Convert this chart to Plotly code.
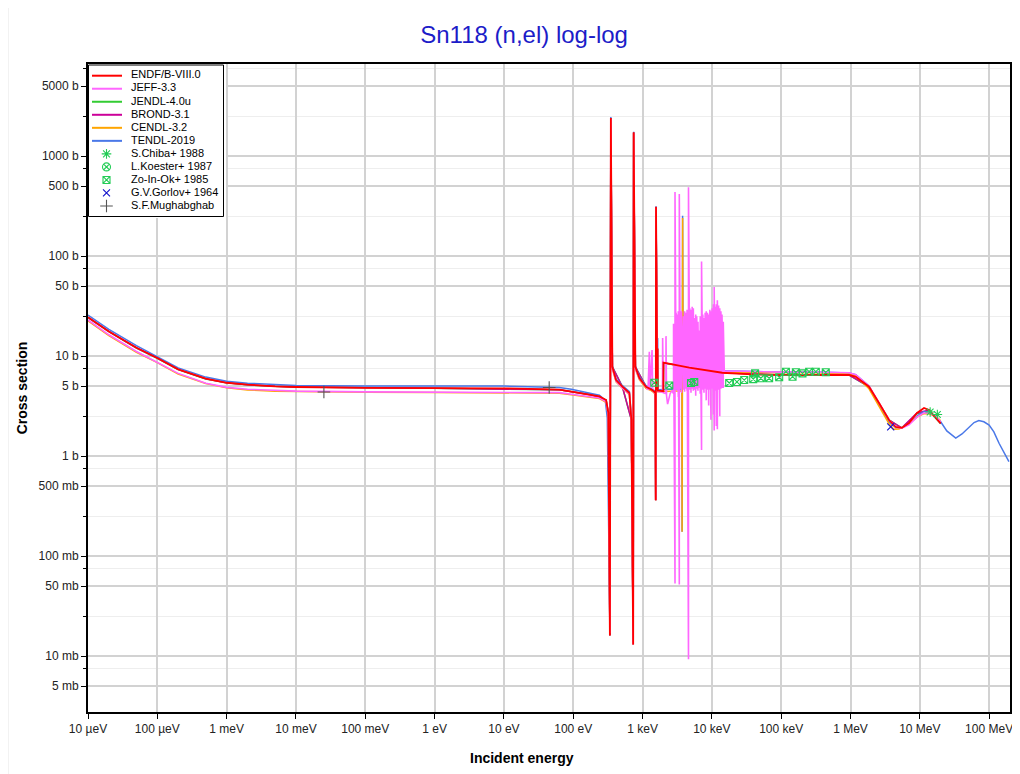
import plotly.graph_objects as go

# evaluated cross sections, energy in eV, cross section in barn
endf_e = [1e-5, 2e-5, 5e-5, 1e-4, 2e-4, 5e-4, 1e-3, 2e-3, 5e-3, 1e-2, 0.1, 1, 10, 63, 94, 189, 239, 298, 321,
          338, 349, 367, 415, 512, 646, 690, 733, 745, 788, 900, 1123, 1384, 1529, 1549, 1565,
          1633, 1655, 1662, 1700, 1990, 2000, 4725, 14.1e3, 38.2e3, 103e3, 319e3, 955e3,
          1.19e6, 1.85e6, 2.58e6, 3.6e6, 4.5e6, 5.5e6, 6.98e6, 9.1e6, 11.5e6, 13.6e6, 17e6, 20e6]
endf_s = [24.4, 17.6, 12.1, 9.55, 7.35, 5.93, 5.4, 5.17, 4.98, 4.9, 4.8, 4.76, 4.75, 4.6, 4.4, 4.07, 3.95, 3.63, 2.7,
          0.016, 2400, 7.8, 5.75, 4.93, 4.27, 2.3, 0.013, 1726, 7.8, 6.03, 4.93, 4.57, 4.27, 0.36, 310,
          4.57, 11.9, 4.5, 4.5, 4.45, 8.57, 7.65, 6.8, 6.56, 6.46, 6.46, 6.46,
          6.2, 4.93, 3.39, 2.29, 1.95, 1.91, 2.14, 2.69, 3.02, 2.88, 2.4, 2.12]

tendl_e = [1e-5, 2e-5, 5e-5, 1e-4, 2e-4, 5e-4, 1e-3, 2e-3, 5e-3, 1e-2, 0.1, 1, 10, 63, 94, 189, 239, 290, 310,
           338, 349, 367, 415, 512, 646, 690, 733, 745, 788, 900, 1123, 1384, 1529, 1549, 1565,
           1633, 1652, 1662, 1700, 3700, 3720, 3784, 3850, 6000, 15e3, 38.2e3, 103e3, 319e3, 955e3,
           1.19e6, 1.85e6, 2.58e6, 3.6e6, 4.5e6, 5.5e6, 6.98e6, 9.1e6, 11.5e6, 13.6e6, 17e6, 20e6,
           24.5e6, 33e6, 40.6e6, 51.5e6, 60.6e6, 71e6, 84e6, 100e6, 117e6, 139e6, 163e6, 193e6]
tendl_s = [25.7, 18.5, 12.7, 9.8, 7.6, 6.15, 5.6, 5.35, 5.15, 5.08, 5.0, 5.0, 5.0, 4.85, 4.65, 4.2, 4.05, 3.6, 2.4,
           0.02, 2450, 8.0, 5.9, 5.05, 4.4, 2.4, 0.014, 1750, 8.0, 6.2, 5.05, 4.7, 4.4, 0.37, 315,
           4.7, 15.1, 4.6, 4.6, 4.7, 0.175, 253, 5.0, 5.5, 7.1, 7.0, 6.9, 6.9, 6.75,
           6.5, 5.0, 3.3, 2.2, 1.92, 1.93, 2.1, 2.5, 2.78, 2.75, 2.5, 2.2,
           1.78, 1.51, 1.66, 1.95, 2.16, 2.26, 2.2, 2.04, 1.74, 1.34, 1.1, 0.88]

jeff_e = [1e-5, 2e-5, 5e-5, 1e-4, 2e-4, 5e-4, 1e-3, 2e-3, 5e-3, 1e-2, 0.1, 1, 10, 63, 94, 189, 239, 298, 321,
          338, 349, 367, 415, 512, 646, 690, 733, 745, 788, 900, 1123,
          1200, 1253, 1280, 1371, 1400, 1529, 1549, 1565, 1633, 1700, 1940, 1950, 1990, 2170, 2180,
          2220, 2300, 2500, 2650]
jeff_s = [22.9, 16.3, 11.1, 8.7, 6.7, 5.35, 4.86, 4.65, 4.5, 4.45, 4.38, 4.37, 4.36, 4.3, 4.15, 3.9, 3.8, 3.5, 2.6,
          0.017, 2350, 7.5, 5.6, 4.8, 4.15, 2.2, 0.013, 1700, 7.5, 5.9, 4.8,
          4.6, 11.0, 4.55, 11.5, 4.5, 4.2, 0.36, 305, 4.5, 4.4, 4.35, 15.1, 4.3, 4.2, 15.8,
          4.0, 3.3, 4.2, 4.5]
# JEFF-3.3 dense resonances 2.8 - 15 keV: energy, top, bottom
jeff_res_e = [2800, 2940, 3050, 3160, 3280, 3390, 3520, 3650, 3900, 4050, 4200, 4380, 4600, 4800,
              5000, 5200, 5400, 5620, 5850, 6050, 6300, 6550, 6800, 7100, 7400, 7700, 8000, 8300,
              8650, 9000, 9350, 9700, 10100, 10500, 10800, 11200, 11600, 12000, 12500, 13000,
              13500, 14000, 14600]
jeff_res_hi = [21, 436, 27, 26, 28, 418, 27, 28, 25, 28, 27, 29, 486, 30, 29, 31, 30, 24, 26, 25,
               22, 18, 25, 88, 26, 24, 27, 28, 27, 26, 29, 28, 30, 33, 49, 31, 33, 36, 32, 30, 28,
               26, 22]
jeff_res_lo = [4.2, 0.053, 4.6, 4.5, 3.9, 0.052, 4.7, 4.3, 4.6, 4.4, 4.7, 4.5, 0.0093, 4.6, 4.3,
               4.7, 4.5, 4.6, 4.0, 4.7, 4.5, 4.8, 4.2, 1.15, 4.6, 4.3, 4.7, 3.6, 4.6, 3.2, 4.6, 2.3,
               4.7, 2.6, 1.8, 4.5, 2.0, 1.85, 4.6, 2.5, 4.7, 4.8, 4.8]
jeff_hi_e = [15.1e3, 38.2e3, 103e3, 319e3, 955e3, 1.19e6, 1.85e6, 2.58e6, 3.6e6, 4.5e6, 5.5e6,
             6.98e6, 9.1e6, 11.5e6, 13.6e6, 17e6, 20e6]
jeff_hi_s = [7.1, 7.0, 6.9, 6.9, 6.8, 6.5, 5.0, 3.4, 2.3, 1.95, 1.9, 2.05, 2.45, 2.7, 2.7, 2.5, 2.2]

cendl_e = [1e-5, 2e-5, 5e-5, 1e-4, 2e-4, 5e-4, 1e-3, 2e-3, 5e-3, 1e-2, 0.1, 1, 10, 63, 94, 189, 239, 298, 321,
           338, 349, 367, 415, 512, 646, 690, 733, 745, 788, 900, 1123, 1384, 1529, 1549, 1565,
           1633, 1700, 3700, 3720, 3784, 3850, 6000, 15e3, 38.2e3, 103e3, 319e3, 955e3,
           1.19e6, 1.85e6, 2.58e6, 3.6e6, 4.2e6, 5.0e6, 6.98e6, 9.1e6, 11.5e6, 13.6e6, 17e6, 20e6]
cendl_s = [22.5, 16.0, 10.9, 8.6, 6.6, 5.3, 4.8, 4.58, 4.44, 4.4, 4.33, 4.32, 4.32, 4.25, 4.1, 3.85, 3.75, 3.45, 2.55,
           0.017, 2300, 7.4, 5.5, 4.75, 4.1, 2.2, 0.013, 1680, 7.4, 5.8, 4.75, 4.45, 4.15, 0.36, 300,
           4.4, 4.4, 4.5, 0.175, 240, 4.9, 5.4, 6.9, 6.85, 6.8, 6.8, 6.6,
           6.3, 4.7, 3.1, 2.1, 1.85, 1.86, 2.1, 2.45, 2.65, 2.65, 2.5, 2.25]

jendl_e = [1e-5, 2e-5, 5e-5, 1e-4, 2e-4, 5e-4, 1e-3, 2e-3, 5e-3, 1e-2, 1, 63, 189, 298, 321, 338, 349, 367, 512,
           690, 733, 745, 788, 1123, 1529, 1549, 1565, 1633, 2000, 2010, 14.1e3, 103e3, 955e3,
           1.85e6, 3.6e6, 5.5e6, 9.1e6, 13.6e6, 20e6]
jendl_s = [24.2, 17.5, 12.0, 9.5, 7.3, 5.9, 5.4, 5.15, 4.97, 4.9, 4.75, 4.6, 4.07, 3.63, 2.7, 0.016, 2380, 7.8,
           4.93, 2.3, 0.013, 1710, 7.8, 4.93, 4.27, 0.36, 305, 4.57, 4.45, 8.5, 6.8, 6.45, 6.45,
           4.9, 2.3, 1.9, 2.65, 2.85, 2.1]

brond_e = [1e-5, 2e-5, 5e-5, 1e-4, 2e-4, 5e-4, 1e-3, 2e-3, 5e-3, 1e-2, 1, 63, 189, 298, 321, 338, 349, 367, 512,
           690, 733, 745, 788, 1123, 1529, 1549, 1565, 1633, 2000, 2010, 14.1e3, 103e3, 955e3,
           1.85e6, 3.6e6, 5.5e6, 9.1e6, 13.6e6, 20e6]
brond_s = [24.3, 17.6, 12.1, 9.55, 7.35, 5.92, 5.4, 5.16, 4.98, 4.9, 4.76, 4.6, 4.07, 3.63, 2.7, 0.016, 2390, 7.8,
           4.93, 2.3, 0.013, 1720, 7.8, 4.93, 4.27, 0.36, 308, 4.57, 4.45, 8.55, 6.8, 6.46, 6.46,
           4.93, 2.29, 1.91, 2.69, 2.88, 2.12]

# experimental points
chiba_e = [14.1e6, 17.9e6]
chiba_s = [2.75, 2.6]
koester_e = []   # nothing visible in the plotted range
koester_s = []
zo_e = [1479, 2432, 5000, 5570, 17.8e3, 23e3, 29.3e3, 39.5e3, 42e3, 50.9e3, 67e3, 93.6e3, 117e3,
        146e3, 163e3, 203e3, 253e3, 316e3, 440e3]
zo_s = [5.41, 5.07, 5.37, 5.5, 5.37, 5.5, 5.75, 5.87, 6.7, 5.99, 5.99, 6.13, 6.97, 6.21, 6.87,
        6.7, 6.97, 6.97, 6.87]
gorlov_e = [3.8e6]
gorlov_s = [1.96]
mugh_e = [0.0253, 45]
mugh_s = [4.36, 4.85]

x_tickvals = [1e-5, 1e-4, 1e-3, 1e-2, 1e-1, 1, 10, 100, 1e3, 1e4, 1e5, 1e6, 1e7, 1e8]
x_ticktext = ['10 µeV', '100 µeV', '1 meV', '10 meV', '100 meV', '1 eV', '10 eV', '100 eV',
              '1 keV', '10 keV', '100 keV', '1 MeV', '10 MeV', '100 MeV']
y_tickvals = [5000, 1000, 500, 100, 50, 10, 5, 1, 0.5, 0.1, 0.05, 0.01, 0.005]
y_ticktext = ['5000 b', '1000 b', '500 b', '100 b', '50 b', '10 b', '5 b', '1 b', '500 mb',
              '100 mb', '50 mb', '10 mb', '5 mb']
y_minorvals = [7500, 2500, 750, 250, 75, 25, 7.5, 2.5, 0.75, 0.25, 0.075, 0.025, 0.0075]

# build JEFF full series: smooth part, zigzag resonances, fast part
zz_e, zz_s = [], []
for e, hi, lo in zip(jeff_res_e, jeff_res_hi, jeff_res_lo):
    zz_e += [e, e]
    zz_s += [lo, hi]
jeff_all_e = jeff_e + zz_e + jeff_hi_e
jeff_all_s = jeff_s + zz_s + jeff_hi_s

FONT = 'Liberation Sans, Arial, sans-serif'

libs = [  # legend order
    ('ENDF/B-VIII.0', endf_e, endf_s, '#ff0000', 1.8),
    ('JEFF-3.3', jeff_all_e, jeff_all_s, '#ff66ff', 1.6),
    ('JENDL-4.0u', jendl_e, jendl_s, '#33cc33', 1.5),
    ('BROND-3.1', brond_e, brond_s, '#cc0099', 1.5),
    ('CENDL-3.2', cendl_e, cendl_s, '#ffa500', 1.5),
    ('TENDL-2019', tendl_e, tendl_s, '#4a78e8', 1.5),
]
exps = [
    ('S.Chiba+ 1988', chiba_e, chiba_s, 'asterisk-open', '#22cc55', 8),
    ('L.Koester+ 1987', koester_e, koester_s, 'circle-x-open', '#22cc55', 8),
    ('Zo-In-Ok+ 1985', zo_e, zo_s, 'square-x-open', '#22cc55', 7),
    ('G.V.Gorlov+ 1964', gorlov_e, gorlov_s, 'x-thin-open', '#1010cc', 7),
    ('S.F.Mughabghab', mugh_e, mugh_s, 'cross-thin-open', '#555555', 9),
]

fig = go.Figure()
draw_order = [2, 3, 5, 4, 1, 0]
for i in draw_order:
    name, e, s, c, w = libs[i]
    fig.add_trace(go.Scatter(x=e, y=s, mode='lines', name=name, line=dict(color=c, width=w),
                             showlegend=False))
for name, e, s, sym, c, sz in exps:
    fig.add_trace(go.Scatter(x=e, y=s, mode='markers', name=name, showlegend=False,
                             marker=dict(symbol=sym, color=c, size=sz, line=dict(color=c, width=1.1))))

W, H = 1012, 766
ml, mr, mt, mb = 80, 10, 56, 62
pw, ph = W - ml - mr, H - mt - mb

# legend drawn on a small helper subplot (coordinates in pixels of the figure)
bx0, bx1, by0, by1 = 80.5, 215.5, 57, 208.5
fig.add_trace(go.Scatter(x=[bx0, bx1, bx1, bx0, bx0], y=[by0, by0, by1, by1, by0], xaxis='x2', yaxis='y2',
                         mode='lines', fill='toself', fillcolor='white', line=dict(color='black', width=1),
                         showlegend=False, hoverinfo='skip'))
row_y = [67.7 + 13.03 * k for k in range(len(libs) + len(exps))]
for k, (name, e, s, c, w) in enumerate(libs):
    fig.add_trace(go.Scatter(x=[84, 114], y=[row_y[k], row_y[k]], xaxis='x2', yaxis='y2', mode='lines',
                             line=dict(color=c, width=2), showlegend=False, hoverinfo='skip'))
for k, (name, e, s, sym, c, sz) in enumerate(exps):
    fig.add_trace(go.Scatter(x=[98.5], y=[row_y[len(libs) + k]], xaxis='x2', yaxis='y2', mode='markers',
                             marker=dict(symbol=sym, color=c, size=sz, line=dict(color=c, width=1.1)),
                             showlegend=False, hoverinfo='skip', cliponaxis=False))
fig.add_trace(go.Scatter(x=[123] * len(row_y), y=row_y, xaxis='x2', yaxis='y2', mode='text',
                         text=[l[0] for l in libs] + [x[0] for x in exps], textposition='middle right',
                         textfont=dict(family=FONT, size=11, color='black'),
                         showlegend=False, hoverinfo='skip', cliponaxis=False))

fig.update_layout(
    width=W, height=H,
    margin=dict(l=ml, r=mr, t=mt, b=mb, autoexpand=False),
    paper_bgcolor='white', plot_bgcolor='white',
    font=dict(family=FONT, size=12, color='#222222'),
    title=dict(text='Sn118 (n,el) log-log', x=0.51, xanchor='center', y=1 - 27 / H, yanchor='middle',
               font=dict(family=FONT, size=24, color='#1c1cc8')),
    xaxis=dict(type='log', range=[-5, 8.301], tickvals=x_tickvals, ticktext=x_ticktext, automargin=False,
               ticks='outside', ticklen=5, tickcolor='black', showline=True, linecolor='black',
               linewidth=2, mirror=True, showgrid=True, gridcolor='#d2d2d2', gridwidth=1.5,
               zeroline=False, tickfont=dict(size=12, color='#222222')),
    yaxis=dict(type='log', range=[-2.56, 3.92], tickvals=y_tickvals, ticktext=y_ticktext, automargin=False,
               ticks='outside', ticklen=5, tickcolor='black', showline=True, linecolor='black',
               linewidth=2, mirror=True, showgrid=True, gridcolor='#d2d2d2', gridwidth=1.5,
               zeroline=False, tickfont=dict(size=12, color='#222222'),
               minor=dict(tickvals=y_minorvals, ticks='outside', ticklen=3, tickcolor='black',
                          showgrid=True, gridcolor='#eeeeee', gridwidth=1),
               title=dict(text='<b>Cross section</b>', font=dict(size=14, color='black'), standoff=8)),
    xaxis2=dict(domain=[0, (218 - ml) / pw], range=[ml, 218], visible=False, anchor='y2', automargin=False),
    yaxis2=dict(domain=[(H - mb - 210) / ph, 1], range=[210, mt], visible=False, anchor='x2', automargin=False),
    annotations=[dict(text='<b>Incident energy</b>', xref='paper', yref='paper',
                      x=(514 - ml) / pw, y=(H - mb - 750) / ph, xanchor='center', yanchor='middle',
                      showarrow=False, font=dict(family=FONT, size=14, color='black'))],
    shapes=[dict(type='line', xref='paper', yref='paper', x0=-ml / pw, x1=-ml / pw,
                 y0=-mb / ph, y1=(H - mb) / ph, line=dict(color='#e6e6e6', width=1))],
)

fig.write_html("out.html")
